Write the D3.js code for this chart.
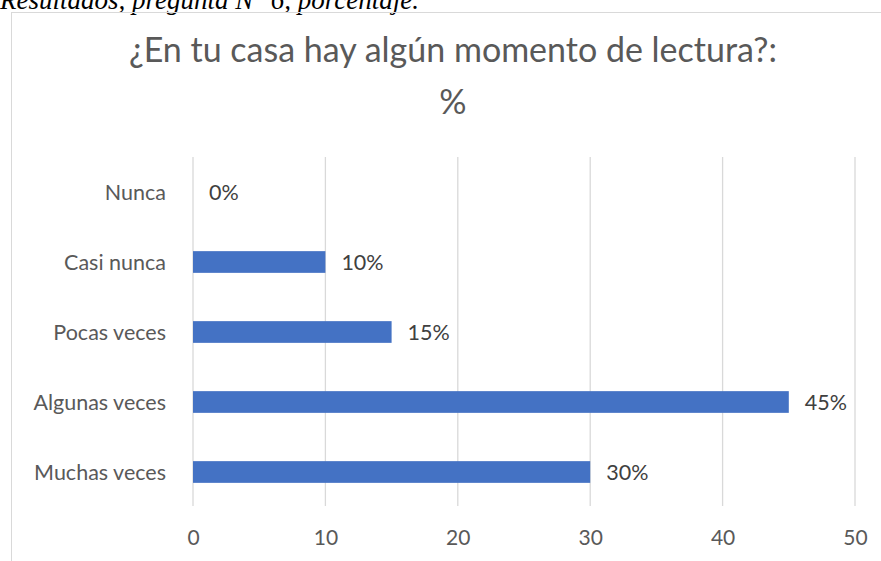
<!DOCTYPE html>
<html>
<head>
<meta charset="utf-8">
<script src="https://cdn.jsdelivr.net/npm/d3@7"></script>
<style>
  body { margin: 0; background: #fff; }
  svg { display: block; }
</style>
</head>
<body>
<svg id="chart" width="881" height="561"></svg>
<script>
'use strict';

var caption = 'Resultados, pregunta N° 6, porcentaje.';
var titleLines = ['¿En tu casa hay algún momento de lectura?:', '%'];
var categories = ['Nunca', 'Casi nunca', 'Pocas veces', 'Algunas veces', 'Muchas veces'];
var values = [0, 10, 15, 45, 30];
var xTicks = [0, 10, 20, 30, 40, 50];

var svg = d3.select('#chart');
var font = 'Lato, "Open Sans", sans-serif';

// caption above the chart box, cut off by the top edge
svg.append('text')
  .attr('x', 0).attr('y', 9)
  .attr('font-family', '"Liberation Serif", "Times New Roman", serif')
  .attr('font-style', 'italic')
  .attr('font-size', 27)
  .attr('fill', '#000')
  .text(caption);

// chart border
svg.append('rect')
  .attr('x', 11.5).attr('y', 12.5)
  .attr('width', 900).attr('height', 600)
  .attr('fill', 'none')
  .attr('stroke', '#d9d9d9')
  .attr('stroke-width', 1);

var margin = {left: 193, top: 157};

var x = d3.scaleLinear().domain([0, 50]).range([0, 662]);
var y = d3.scaleBand().domain(categories).range([0, 350]).paddingInner(0.69).paddingOuter(0.345);

var g = svg.append('g').attr('transform', 'translate(' + margin.left + ',' + margin.top + ')');

// title
svg.append('text')
  .attr('text-anchor', 'middle')
  .attr('font-family', font)
  .attr('font-size', 34)
  .attr('fill', '#595959')
  .selectAll('tspan')
  .data(titleLines)
  .enter().append('tspan')
  .attr('x', 453)
  .attr('y', function(d, i) { return 62 + i * 52; })
  .text(function(d) { return d; });

// gridlines
g.selectAll('line.grid')
  .data(xTicks)
  .enter().append('line')
  .attr('class', 'grid')
  .attr('x1', function(d) { return x(d); })
  .attr('x2', function(d) { return x(d); })
  .attr('y1', 0).attr('y2', 349)
  .attr('stroke', '#d9d9d9')
  .attr('stroke-width', 1.3);

// x axis labels
var xAxis = d3.axisBottom(x).tickValues(xTicks).tickSize(0).tickPadding(0);
var xg = g.append('g').attr('transform', 'translate(0,' + 350 + ')').call(xAxis);
xg.select('.domain').remove();
xg.selectAll('text')
  .attr('dy', null)
  .attr('y', 38)
  .attr('font-family', font)
  .attr('font-size', 21)
  .attr('fill', '#595959');

// y axis labels
var yAxis = d3.axisLeft(y).tickSize(0).tickPadding(27);
var yg = g.append('g').call(yAxis);
yg.select('.domain').remove();
yg.selectAll('text')
  .attr('dy', '0.35em')
  .attr('font-family', font)
  .attr('font-size', 21.5)
  .attr('fill', '#595959');

// bars
g.selectAll('rect.bar')
  .data(values)
  .enter().append('rect')
  .attr('class', 'bar')
  .attr('x', x(0))
  .attr('y', function(d, i) { return y(categories[i]); })
  .attr('width', function(d) { return x(d) - x(0); })
  .attr('height', y.bandwidth())
  .attr('fill', '#4472c4');

// value labels
g.selectAll('text.val')
  .data(values)
  .enter().append('text')
  .attr('class', 'val')
  .attr('x', function(d) { return x(d) + 16; })
  .attr('y', function(d, i) { return y(categories[i]) + y.bandwidth() / 2; })
  .attr('dy', '0.35em')
  .attr('font-family', font)
  .attr('font-size', 21.5)
  .attr('fill', '#404040')
  .text(function(d) { return d + '%'; });
</script>
</body>
</html>
